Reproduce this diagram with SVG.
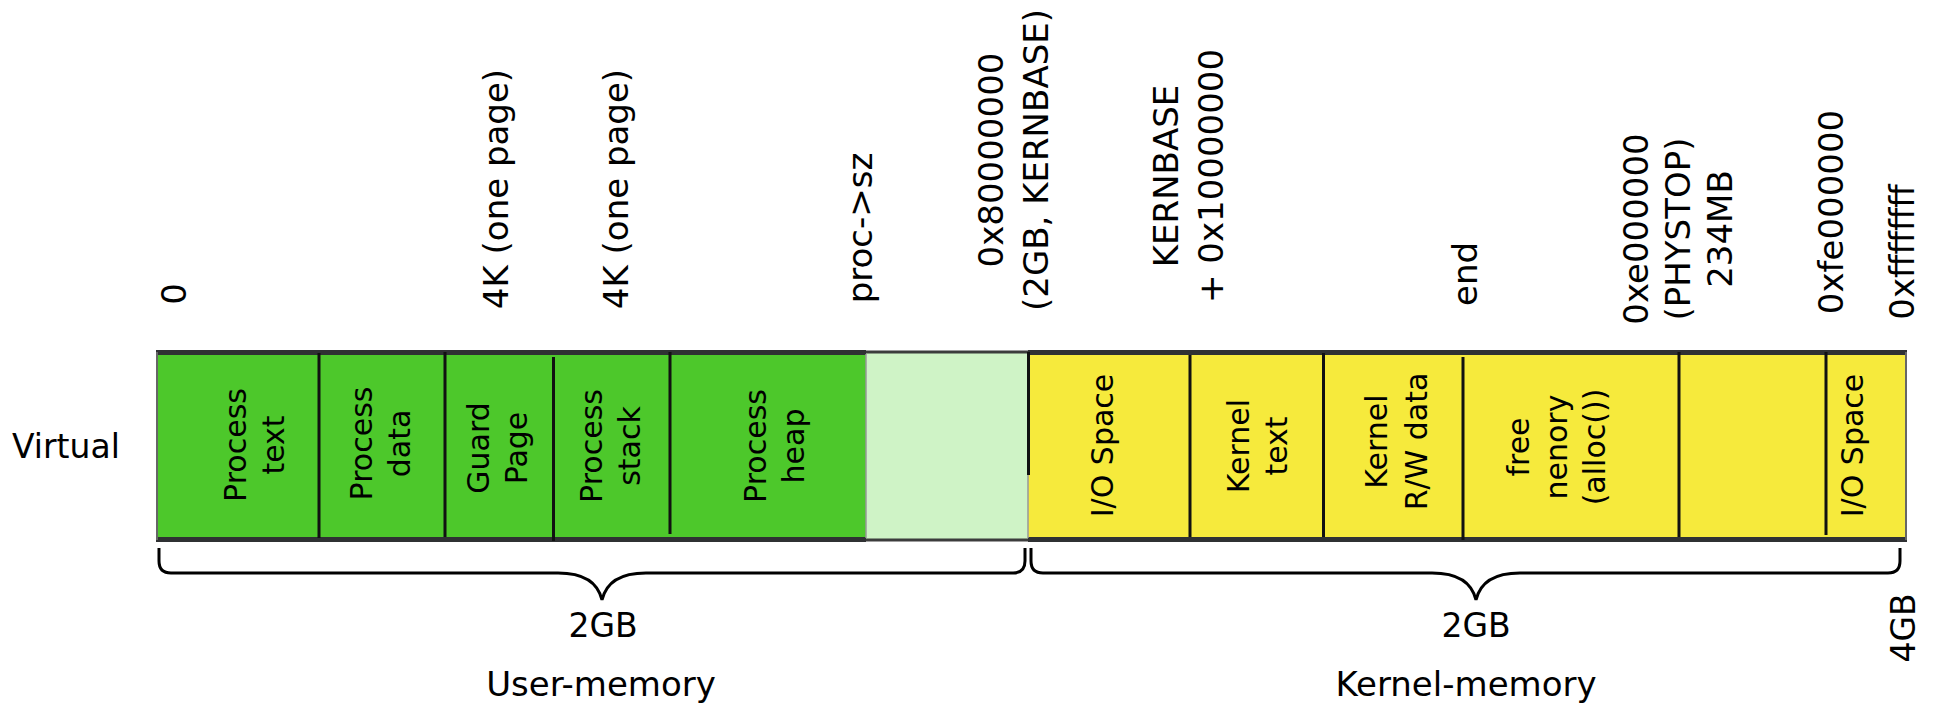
<svg xmlns="http://www.w3.org/2000/svg" width="1938" height="709" viewBox="0 0 1938 709">
<style>
text{font-family:"DejaVu Sans","Liberation Sans",sans-serif;fill:#000}
.top{font-size:34px;text-anchor:middle}
.box{font-size:30px;text-anchor:middle}
.lbl{font-size:34px;text-anchor:middle}
.div{stroke:#111;stroke-width:3;fill:none}
.bt{stroke:#2f3133;stroke-width:5;fill:none}
.bthin{stroke:#3c3c3c;stroke-width:3;fill:none}
.edge{stroke:#666;stroke-width:2;fill:none}
.brace{stroke:#000;stroke-width:3;fill:none}
.g{fill:#4dc82b}
.lg{fill:#cff3c6}
.y{fill:#f6ea3c}
</style>
<rect width="1938" height="709" fill="#fff"/>

<text x="12" y="458" style="font-size:33px">Virtual</text>

<g id="top-labels">
<text class="top" transform="translate(186,294) rotate(-90)">0</text>
<text class="top" transform="translate(508,189) rotate(-90)">4K (one page)</text>
<text class="top" transform="translate(628,189) rotate(-90)">4K (one page)</text>
<text class="top" transform="translate(872,228) rotate(-90)">proc-&gt;sz</text>
<text class="top" transform="translate(1003,160) rotate(-90)"><tspan x="0" y="0">0x80000000</tspan><tspan x="0" y="45">(2GB, KERNBASE)</tspan></text>
<text class="top" transform="translate(1178,176) rotate(-90)"><tspan x="0" y="0">KERNBASE</tspan><tspan x="0" y="45">+ 0x10000000</tspan></text>
<text class="top" transform="translate(1477,274) rotate(-90)">end</text>
<text class="top" transform="translate(1648,229) rotate(-90)"><tspan x="0" y="0">0xe000000</tspan><tspan x="0" y="42">(PHYSTOP)</tspan><tspan x="0" y="84">234MB</tspan></text>
<text class="top" transform="translate(1843,212) rotate(-90)">0xfe000000</text>
<text class="top" transform="translate(1914,252) rotate(-90)">0xffffffff</text>
</g>

<g id="bar-fills">
<rect class="g" x="157" y="352" width="709" height="188"/>
<rect class="lg" x="866" y="352" width="162" height="188"/>
<rect class="y" x="1028" y="352" width="878" height="188"/>
</g>

<g id="bar-borders">
<line class="bt" x1="156" y1="352.5" x2="866" y2="352.5"/>
<line class="bthin" x1="866" y1="352" x2="1028" y2="352"/>
<line class="bt" x1="1028" y1="352.5" x2="1907" y2="352.5"/>
<line class="bt" x1="156" y1="539.5" x2="866" y2="539.5"/>
<line class="bthin" x1="866" y1="540" x2="1028" y2="540"/>
<line class="bt" x1="1028" y1="539.5" x2="1907" y2="539.5"/>
<line class="edge" x1="157" y1="352" x2="157" y2="540"/>
<line class="edge" x1="1906" y1="352" x2="1906" y2="540"/>
<line stroke="#999" stroke-width="1.5" x1="866" y1="354" x2="866" y2="538"/>
<line stroke="#999" stroke-width="1.5" x1="1028" y1="475" x2="1028" y2="538"/>
</g>

<g id="node-process-text">
<text class="box" transform="translate(246,445) rotate(-90)"><tspan x="0" y="0">Process</tspan><tspan x="0" y="38">text</tspan></text>
</g>
<g id="node-process-data">
<line class="div" x1="319" y1="353" x2="319" y2="538"/>
<text class="box" transform="translate(372,443.5) rotate(-90)"><tspan x="0" y="0">Process</tspan><tspan x="0" y="38">data</tspan></text>
</g>
<g id="node-guard-page">
<line class="div" x1="445" y1="352" x2="445" y2="537"/>
<text class="box" transform="translate(489,448) rotate(-90)"><tspan x="0" y="0">Guard</tspan><tspan x="0" y="38">Page</tspan></text>
</g>
<g id="node-process-stack">
<line class="div" x1="553.5" y1="357" x2="553.5" y2="541"/>
<text class="box" transform="translate(602,446) rotate(-90)"><tspan x="0" y="0">Process</tspan><tspan x="0" y="38">stack</tspan></text>
</g>
<g id="node-process-heap">
<line class="div" x1="670" y1="352" x2="670" y2="534"/>
<text class="box" transform="translate(766,446) rotate(-90)"><tspan x="0" y="0">Process</tspan><tspan x="0" y="38">heap</tspan></text>
</g>
<g id="node-unused">
<line class="div" x1="1028.5" y1="352" x2="1028.5" y2="475"/>
</g>
<g id="node-io-space-1">
<text class="box" transform="translate(1113,445.5) rotate(-90)">I/O Space</text>
</g>
<g id="node-kernel-text">
<line class="div" x1="1190" y1="355" x2="1190" y2="537"/>
<text class="box" transform="translate(1249,446) rotate(-90)"><tspan x="0" y="0">Kernel</tspan><tspan x="0" y="38">text</tspan></text>
</g>
<g id="node-kernel-rw">
<line class="div" x1="1323.5" y1="353" x2="1323.5" y2="537"/>
<text class="box" transform="translate(1387,441.5) rotate(-90)"><tspan x="0" y="0">Kernel</tspan><tspan x="0" y="40">R/W data</tspan></text>
</g>
<g id="node-free-memory">
<line class="div" x1="1463" y1="357" x2="1463" y2="540"/>
<text class="box" transform="translate(1529,447) rotate(-90)"><tspan x="0" y="0">free</tspan><tspan x="0" y="38">nenory</tspan><tspan x="0" y="76">(alloc())</tspan></text>
</g>
<g id="node-empty">
<line class="div" x1="1679" y1="352" x2="1679" y2="537"/>
</g>
<g id="node-io-space-2">
<line class="div" x1="1826" y1="352" x2="1826" y2="535"/>
<text class="box" transform="translate(1863,445.5) rotate(-90)">I/O Space</text>
</g>

<g id="connectors">
<path class="brace" d="M159,548 L159,561 Q159,573 171,573 L558,573 C585,573 598,583 602,600 C606,583 619,573 646,573 L1013,573 Q1025,573 1025,561 L1025,548"/>
<path class="brace" d="M1031,548 L1031,561 Q1031,573 1043,573 L1432,573 C1459,573 1472,583 1476,600 C1480,583 1493,573 1520,573 L1888,573 Q1900,573 1900,561 L1900,548"/>
</g>

<g id="bottom-labels">
<text class="lbl" x="603" y="637" style="font-size:33px">2GB</text>
<text class="lbl" x="601" y="696">User-memory</text>
<text class="lbl" x="1476" y="637" style="font-size:33px">2GB</text>
<text class="lbl" x="1466" y="696">Kernel-memory</text>
<text class="top" transform="translate(1915,628) rotate(-90)" style="font-size:33px">4GB</text>
</g>
</svg>
